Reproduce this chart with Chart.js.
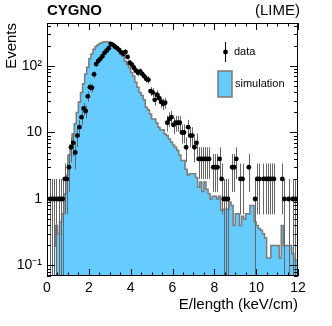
<!DOCTYPE html>
<html>
<head>
<meta charset="utf-8">
<script src="https://cdn.jsdelivr.net/npm/chart.js@4/dist/chart.umd.min.js"></script>
<style>
  html, body { margin: 0; padding: 0; background: #fff; }
  canvas { display: block; }
</style>
</head>
<body>
<canvas id="cygnoChart" width="332" height="326"></canvas>
<script>
// binning: 120 bins of 0.1 keV/cm between 0 and 12
const binLow = 0;
const binWidth = 0.1;

// simulation histogram (bin contents, null = empty)
const simCounts = [
  null, null, null, null, 0.19, 0.4, 0.3, 0.45, 0.6, 1.2,
  2.3, 4.6, 6.5, 9.6, 13.5, 20, 28.7, 40, 54, 76,
  96, 128, 152, 178, 197, 209, 220, 225, 230, 232,
  228, 220, 205, 195, 182, 165, 152, 140, 118, 105,
  95, 80, 70, 57, 48, 40, 36, 31, 24, 22,
  19, 16, 16, 14, 12, 11, 11, 9.5, 9, 8,
  7.2, 6.5, 6, 5.4, 4.6, 3.8, 3.8, 2.8, 2.3, 2.4,
  2.4, 2.4, 2.1, 1.5, 1.8, 1.3, 1.8, 1.4, 1.2, 1.0,
  1.1, 1.1, 1.0, 1.1, 0.68, 0.7, 0.7, 0.7, 0.9, 0.8,
  0.4, 0.6, 0.6, 0.4, 0.55, 0.5, 0.6, 0.6, 0.8, 0.8,
  0.45, 0.4, 0.36, 0.34, 0.3, 0.26, 0.13, 0.13, 0.2, 0.2,
  0.2, 0.2, 0.13, 0.4, 0.2, 0.2, 0.2, 0.2, 0.15, 0.12
];

// data histogram (event counts, null = no entries)
const dataCounts = [
  null, 1, 1, 1, 1, 1, 1, 1, 2, 2,
  3, 6, 7, 5, 9, 12, 17, 23, 21, 35,
  48, 47, 75, 107, 119, 128, 140, 158, 170, 185,
  215, 208, 195, 185, 175, 160, 152, 163, 137, 112,
  105, 94, 85, 79, 83, 76, 70, 64, 62, 42,
  40, 31, 37, 33, 29, 27, 28, 14, 16, 17,
  13, 14, 14, 14, 10, 10, 6, 12, 9, 9,
  6, 7, 4, 4, 4, 4, 4, 4, null, 3,
  3, 3, 4, 2, 1, 1, 1, null, 3, 3,
  4, null, 2, 2, null, null, 3, null, null, 1,
  2, 2, null, 2, 2, 2, 2, 2, 2, null,
  null, null, 2, 1, null, 1, null, 1, 1, 1
];

const xTickVals = [0, 2, 4, 6, 8, 10, 12];
const yTickVals = [0.1, 1, 10, 100];
const yTickLabels = ['10\u207B\u00B9', '1', '10', '10\u00B2'];

const FONT = '"Liberation Sans", Arial, Helvetica, sans-serif';
const simFill = '#66ccff';
const simLine = '#7a7a7a';

// step points for the simulation outline
const simPts = [];
simCounts.forEach((v, k) => {
  if (v != null) simPts.push({ x: binLow + k * binWidth, y: v });
});
simPts.push({ x: binLow + simCounts.length * binWidth, y: simCounts[simCounts.length - 1] });

// data markers at bin centres
const dataPts = [];
dataCounts.forEach((n, k) => {
  if (n != null) dataPts.push({ x: binLow + (k + 0.5) * binWidth, y: n });
});

// ROOT-like frame, inward ticks, error bars, header and legend
const rootStyle = {
  id: 'rootStyle',
  beforeDatasetDraw(chart, args) {
    if (args.index !== 0) return;
    const { ctx, chartArea: a, scales: { x, y } } = chart;
    ctx.save();
    ctx.beginPath();
    ctx.rect(a.left, a.top, a.right - a.left, a.bottom - a.top);
    ctx.clip();
    dataCounts.forEach((n, k) => {
      if (n == null) return;
      const lo = binLow + k * binWidth;
      const cx = x.getPixelForValue(lo + binWidth / 2);
      const cy = y.getPixelForValue(n);
      const err = Math.sqrt(n);
      const yTop = y.getPixelForValue(n + err);
      const yBot = n - err > 0 ? y.getPixelForValue(n - err) : a.bottom;
      ctx.strokeStyle = '#666';
      ctx.lineWidth = 1;
      ctx.beginPath();
      ctx.moveTo(Math.round(cx) + 0.5, yTop);
      ctx.lineTo(Math.round(cx) + 0.5, yBot);
      ctx.stroke();
      ctx.strokeStyle = '#000';
      ctx.beginPath();
      ctx.moveTo(x.getPixelForValue(lo), Math.round(cy) + 0.5);
      ctx.lineTo(x.getPixelForValue(lo + binWidth), Math.round(cy) + 0.5);
      ctx.stroke();
    });
    ctx.restore();
  },
  afterDraw(chart) {
    const { ctx, chartArea: a, scales: { x, y } } = chart;
    ctx.save();
    ctx.strokeStyle = '#000';
    ctx.lineWidth = 1;
    ctx.strokeRect(a.left + 0.5, a.top + 0.5, a.right - a.left - 1, a.bottom - a.top - 1);

    ctx.beginPath();
    // x ticks every 0.5, long every 2
    for (let i = 0; i <= 24; i++) {
      const v = i * 0.5;
      const px = Math.round(x.getPixelForValue(v)) + 0.5;
      const len = (i % 4 === 0) ? 7 : 3.5;
      ctx.moveTo(px, a.bottom);
      ctx.lineTo(px, a.bottom - len);
      ctx.moveTo(px, a.top);
      ctx.lineTo(px, a.top + len);
    }
    // y ticks on decades and 2..9
    for (let e = -2; e <= 3; e++) {
      for (let m = 1; m <= 9; m++) {
        const v = m * Math.pow(10, e);
        if (v < y.min || v > y.max) continue;
        const py = Math.round(y.getPixelForValue(v)) + 0.5;
        const len = m === 1 ? 8 : 4;
        ctx.moveTo(a.left, py);
        ctx.lineTo(a.left + len, py);
        ctx.moveTo(a.right, py);
        ctx.lineTo(a.right - len, py);
      }
    }
    ctx.stroke();

    // header
    ctx.fillStyle = '#000';
    ctx.textBaseline = 'alphabetic';
    ctx.font = 'bold 15px ' + FONT;
    ctx.textAlign = 'left';
    ctx.fillText('CYGNO', a.left, 15);
    ctx.font = '15px ' + FONT;
    ctx.textAlign = 'right';
    ctx.fillText('(LIME)', 300, 15);

    // legend
    ctx.strokeStyle = '#000';
    ctx.beginPath();
    ctx.moveTo(225.5, 42);
    ctx.lineTo(225.5, 62);
    ctx.stroke();
    ctx.beginPath();
    ctx.arc(225.5, 52, 2.4, 0, Math.PI * 2);
    ctx.fill();
    ctx.fillStyle = simFill;
    ctx.fillRect(218, 71, 14, 26);
    ctx.strokeStyle = simLine;
    ctx.lineWidth = 1.5;
    ctx.strokeRect(218, 71, 14, 26);
    ctx.fillStyle = '#000';
    ctx.font = '11px ' + FONT;
    ctx.textAlign = 'left';
    ctx.textBaseline = 'middle';
    ctx.fillText('data', 234, 52);
    ctx.fillText('simulation', 235, 84);
    ctx.restore();
  }
};

const ctx = document.getElementById('cygnoChart').getContext('2d');
new Chart(ctx, {
  type: 'line',
  data: {
    datasets: [
      {
        type: 'scatter',
        label: 'data',
        data: dataPts,
        pointRadius: 2.4,
        pointBackgroundColor: '#000',
        pointBorderWidth: 0,
        showLine: false
      },
      {
        label: 'simulation',
        data: simPts,
        stepped: 'after',
        fill: 'start',
        backgroundColor: simFill,
        borderColor: simLine,
        borderWidth: 1.5,
        pointRadius: 0,
        clip: 0
      }
    ]
  },
  options: {
    responsive: false,
    animation: false,
    devicePixelRatio: 1,
    layout: { padding: { top: 23, right: 34, left: 0, bottom: 0 } },
    plugins: { legend: { display: false }, tooltip: { enabled: false } },
    scales: {
      x: {
        type: 'linear',
        min: 0,
        max: 12,
        grid: { display: false, drawTicks: false },
        border: { display: false },
        afterBuildTicks: (axis) => { axis.ticks = xTickVals.map(v => ({ value: v })); },
        afterFit: (axis) => { axis.height = 50; },
        ticks: {
          autoSkip: false,
          maxRotation: 0,
          padding: 4,
          color: '#000',
          font: { family: FONT, size: 14 }
        },
        title: {
          display: true,
          text: 'E/length (keV/cm)',
          align: 'end',
          color: '#000',
          font: { family: FONT, size: 15 },
          padding: { top: 0, bottom: 12 }
        }
      },
      y: {
        type: 'logarithmic',
        min: 0.0695,
        max: 443,
        grid: { display: false, drawTicks: false },
        border: { display: false },
        afterBuildTicks: (axis) => { axis.ticks = yTickVals.map(v => ({ value: v })); },
        afterFit: (axis) => { axis.width = 47; },
        ticks: {
          autoSkip: false,
          padding: 5,
          color: '#000',
          font: { family: FONT, size: 14 },
          callback: (v) => yTickLabels[yTickVals.indexOf(v)]
        },
        title: {
          display: true,
          text: 'Events',
          align: 'end',
          color: '#000',
          font: { family: FONT, size: 15 },
          padding: { top: 3, bottom: 0 }
        }
      }
    }
  },
  plugins: [rootStyle]
});
</script>
</body>
</html>
